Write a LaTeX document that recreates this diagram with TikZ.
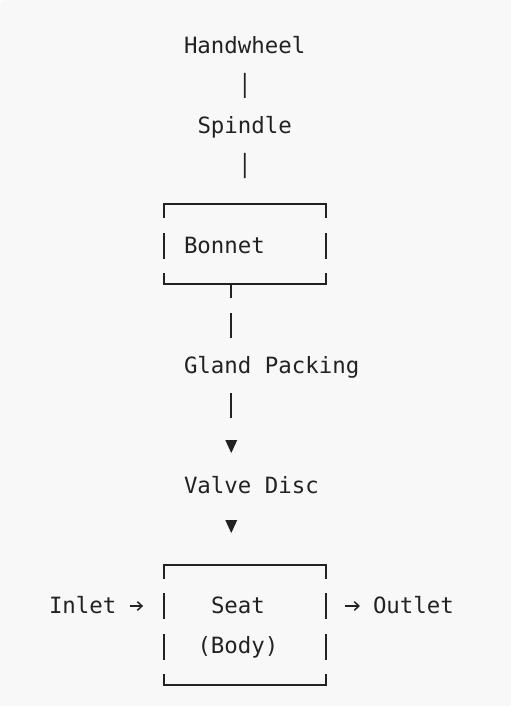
\documentclass[tikz,border=0pt]{standalone}
\usepackage{fontspec}
\setmonofont{DejaVu Sans Mono}
\usetikzlibrary{calc,arrows.meta}
\definecolor{ink}{HTML}{222222}
\definecolor{bg}{HTML}{F8F8F8}
\begin{document}
\begin{tikzpicture}[x=0.75pt,y=-0.75pt,
  lbl/.style={inner sep=0pt, outer sep=0pt, text height=11.25pt, text depth=0pt, anchor=west,
    font={\ttfamily\fontsize{16.8pt}{20pt}\selectfont}, text=ink},
  wire/.style={draw=ink, line width=1.3pt},
  boxnode/.style={inner sep=0pt, outer sep=0pt, minimum width=121.5pt},
  flowarrow/.style={draw=ink, line width=1.1pt, -{Straight Barb[length=3.5pt,width=6.5pt]}},
  tri/.style={fill=ink}
]
\useasboundingbox (0,0) rectangle (510,706);
\fill[white] (0,0) rectangle (510,706);
\fill[bg, rounded corners=4pt] (0,0) rectangle (520,716);

% labels
\node[lbl] (hw) at (184,46) {Handwheel};
\node[lbl] (sp) at (197.5,126) {Spindle};
\node[lbl] (bonnet) at (184,245.5) {Bonnet};
\node[lbl] (gland) at (184,366) {Gland Packing};
\node[lbl] (valve) at (184,486) {Valve Disc};
\node[lbl] (seat) at (211,606) {Seat};
\node[lbl] (body) at (197.5,646) {(Body)};
\node[lbl] (inlet) at (49,606) {Inlet};
\node[lbl] (outlet) at (373,606) {Outlet};

% boxes
\node[boxnode, minimum height=60pt] (bonnetbox) at (244.75,244) {};
\node[boxnode, minimum height=90pt] (seatbox) at (244.75,625) {};
\coordinate (stem) at (231.25,0);

% bonnet box outline
\draw[wire] ($(bonnetbox.north west)+(0,14)$) -- (bonnetbox.north west) -- (bonnetbox.north east) -- ++(0,14);
\draw[wire] ($(bonnetbox.north west)+(0,29)$) -- ++(0,26);
\draw[wire] ($(bonnetbox.north east)+(0,29)$) -- ++(0,26);
\draw[wire] ($(bonnetbox.south west)+(0,-11)$) -- (bonnetbox.south west) -- (bonnetbox.south east) -- ++(0,-11);

% seat box outline
\draw[wire] ($(seatbox.north west)+(0,14)$) -- (seatbox.north west) -- (seatbox.north east) -- ++(0,14);
\draw[wire] ($(seatbox.north west)+(0,28)$) -- ++(0,26);
\draw[wire] ($(seatbox.north east)+(0,28)$) -- ++(0,26);
\draw[wire] ($(seatbox.north west)+(0,69)$) -- ++(0,26);
\draw[wire] ($(seatbox.north east)+(0,69)$) -- ++(0,26);
\draw[wire] ($(seatbox.south west)+(0,-11)$) -- (seatbox.south west) -- (seatbox.south east) -- ++(0,-11);

% connectors
\draw[wire, shorten <=14.625pt, shorten >=15.375pt] (hw) -- (sp);
\draw[wire, shorten <=14.625pt, shorten >=19.5pt] (sp) -- (bonnetbox);
\draw[wire, dash pattern=on 10.5pt off 11.25pt on 18.75pt off 60pt] (bonnetbox.south -| stem) -- (gland.north -| stem);
\draw[wire, shorten <=14.625pt, dash pattern=on 18.75pt off 60pt] (gland.south -| stem) -- (valve.north -| stem);
\coordinate (t1) at (225.25,440);
\coordinate (t2) at (225.25,520);
\fill[tri] (t1) -- ++(12,0) -- ++(-6,13) -- cycle;
\fill[tri] (t2) -- ++(12,0) -- ++(-6,13) -- cycle;

% flow arrows
\draw[flowarrow, shorten <=10.125pt, shorten >=15.5pt] (inlet) -- (inlet -| seatbox.west);
\draw[flowarrow, shorten <=14.4pt, shorten >=9.75pt] (seatbox.east |- outlet) -- (outlet);
\end{tikzpicture}
\end{document}
